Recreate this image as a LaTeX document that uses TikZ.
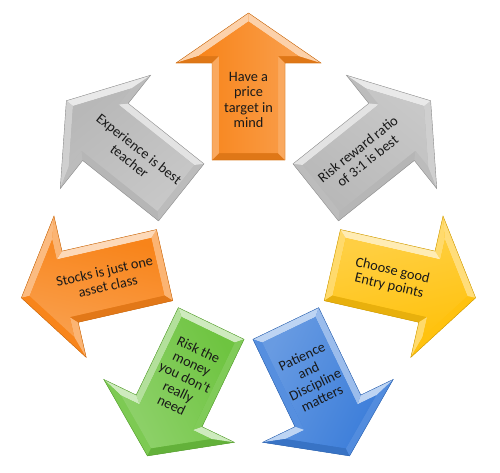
\documentclass[tikz,border=0pt]{standalone}
\usepackage{fontspec}
\setmainfont{Carlito}

\definecolor{pilorange}{HTML}{F8841A}
\definecolor{pilgray}{HTML}{B8B8B8}
\definecolor{pilyellow}{HTML}{FFC20E}
\definecolor{pilblue}{HTML}{3E7FDA}
\definecolor{pilgreen}{HTML}{6EC440}

% one bevel facet, lit from above
\newcommand{\facet}[3]{%
  \pgfmathsetmacro{\lit}{0.3+0.4*cos(#1-90)}%
  \ifdim\lit pt>0pt
    \pgfmathsetmacro{\pct}{100-100*\lit}%
    \fill[#2!\pct!white] #3;
  \else
    \pgfmathsetmacro{\pct}{100+100*\lit}%
    \fill[#2!\pct!black] #3;
  \fi
}

% #1 name, #2 arrow angle, #3 text angle, #4 colour, #5 text
\newcommand{\bevelarrow}[5]{%
  \begin{scope}[rotate=#2]
    \fill[#4] (86,-36.5) -- (183,-36.5) -- (183,-72.5) -- (233,0) -- (183,72.5) -- (183,36.5) -- (86,36.5) -- cycle;
    \facet{#2+180}{#4}{(86,36.5) -- (86,-36.5) -- (93,-29.5) -- (93,29.5) -- cycle}
    \facet{#2-90}{#4}{(86,-36.5) -- (183,-36.5) -- (190,-29.5) -- (93,-29.5) -- cycle}
    \facet{#2+180}{#4}{(183,-36.5) -- (183,-72.5) -- (190,-50) -- (190,-29.5) -- cycle}
    \facet{#2-34.6}{#4}{(183,-72.5) -- (233,0) -- (224.5,0) -- (190,-50) -- cycle}
    \facet{#2+34.6}{#4}{(233,0) -- (183,72.5) -- (190,50) -- (224.5,0) -- cycle}
    \facet{#2+180}{#4}{(183,72.5) -- (183,36.5) -- (190,29.5) -- (190,50) -- cycle}
    \facet{#2+90}{#4}{(183,36.5) -- (86,36.5) -- (93,29.5) -- (190,29.5) -- cycle}
    \shade[top color=#4!78!white, bottom color=#4, shading angle={-(#2)}]
      (93,-29.5) -- (190,-29.5) -- (190,-50) -- (224.5,0) -- (190,50) -- (190,29.5) -- (93,29.5) -- cycle;
    \draw[#4!80!black, line width=0.4pt] (86,-36.5) -- (183,-36.5) -- (183,-72.5) -- (233,0) -- (183,72.5) -- (183,36.5) -- (86,36.5) -- cycle;
  \end{scope}
  \node[pilfont, rotate=#3] (#1) at (#2:146) {#5};
}

\begin{document}
\begin{tikzpicture}[
    x=1pt, y=1pt,
    pilfont/.style = {font=\fontsize{14.3}{15.5}\selectfont, align=center, text=black!90, inner sep=0pt}
    ]
  \useasboundingbox (-248.5,-226) rectangle (251.5,246);

  \bevelarrow{target}{90}{0}{pilorange}{Have a\\price\\target in\\mind}
  \bevelarrow{ratio}{38.571}{38.571}{pilgray}{Risk reward ratio\\of 3:1 is best}
  \bevelarrow{entry}{-12.857}{-12.857}{pilyellow}{Choose good\\Entry points}
  \bevelarrow{patience}{-64.286}{25.714}{pilblue}{Patience\\and\\Discipline\\matters}
  \bevelarrow{money}{-115.714}{-25.714}{pilgreen}{Risk the\\money\\you don’t\\really\\need}
  \bevelarrow{stocks}{192.857}{12.857}{pilorange}{Stocks is just one\\asset class}
  \bevelarrow{teacher}{141.429}{-38.571}{pilgray}{Experience is best\\teacher}

\end{tikzpicture}
\end{document}
